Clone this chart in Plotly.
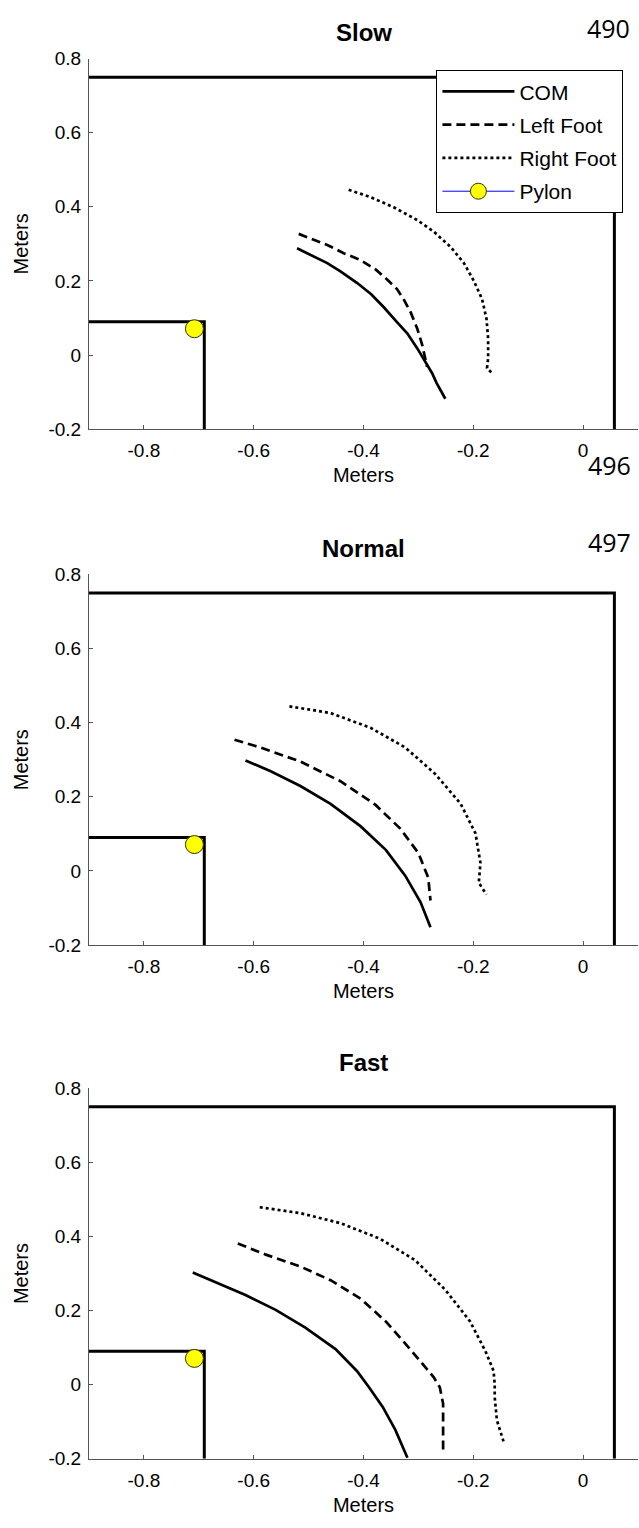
import plotly.graph_objects as go

W, H = 639, 1528

# ---- trajectories (metres) -------------------------------------------------
slow_com_x = [-0.521, -0.497, -0.466, -0.442, -0.412, -0.386, -0.363, -0.339, -0.320, -0.302, -0.287, -0.275, -0.267, -0.251]
slow_com_y = [0.288, 0.271, 0.248, 0.226, 0.195, 0.164, 0.129, 0.089, 0.058, 0.018, -0.018, -0.049, -0.075, -0.118]
slow_left_x = [-0.518, -0.497, -0.466, -0.436, -0.406, -0.378, -0.357, -0.339, -0.327, -0.314, -0.302, -0.293, -0.286, -0.284]
slow_left_y = [0.327, 0.315, 0.297, 0.275, 0.257, 0.231, 0.204, 0.178, 0.151, 0.115, 0.071, 0.027, -0.018, -0.032]
slow_right_x = [-0.427, -0.387, -0.345, -0.302, -0.272, -0.242, -0.217, -0.199, -0.184, -0.176, -0.173, -0.173, -0.175, -0.166]
slow_right_y = [0.446, 0.426, 0.399, 0.364, 0.333, 0.293, 0.248, 0.200, 0.151, 0.098, 0.045, -0.009, -0.035, -0.049]

normal_com_x = [-0.615, -0.569, -0.515, -0.460, -0.405, -0.359, -0.324, -0.296, -0.278]
normal_com_y = [0.298, 0.269, 0.229, 0.181, 0.120, 0.056, -0.013, -0.085, -0.152]
normal_left_x = [-0.635, -0.588, -0.515, -0.442, -0.378, -0.333, -0.300, -0.282, -0.278]
normal_left_y = [0.354, 0.333, 0.295, 0.242, 0.178, 0.114, 0.048, -0.019, -0.080]
normal_right_x = [-0.535, -0.460, -0.387, -0.324, -0.269, -0.223, -0.196, -0.187, -0.190, -0.176]
normal_right_y = [0.444, 0.426, 0.386, 0.333, 0.261, 0.181, 0.101, 0.021, -0.032, -0.064]

fast_com_x = [-0.711, -0.669, -0.615, -0.560, -0.506, -0.451, -0.412, -0.390, -0.365, -0.342, -0.320]
fast_com_y = [0.303, 0.277, 0.242, 0.202, 0.154, 0.096, 0.037, -0.007, -0.060, -0.122, -0.197]
fast_left_x = [-0.629, -0.578, -0.515, -0.460, -0.405, -0.359, -0.318, -0.290, -0.272, -0.261, -0.255, -0.255]
fast_left_y = [0.381, 0.351, 0.319, 0.282, 0.232, 0.170, 0.101, 0.050, 0.020, -0.007, -0.051, -0.180]
fast_right_x = [-0.589, -0.515, -0.442, -0.370, -0.306, -0.251, -0.206, -0.178, -0.163, -0.161, -0.161, -0.157, -0.145]
fast_right_y = [0.479, 0.463, 0.436, 0.394, 0.336, 0.256, 0.171, 0.091, 0.037, 0.000, -0.034, -0.096, -0.153]

# ---- course geometry ---------------------------------------------------------
wall_y = 0.75          # far wall
wall_x = 0.057         # right wall
corner_x = -0.69       # pylon block edge
corner_y = 0.09
pylon_x = [-0.708]
pylon_y = [0.071]

panels = [
    ("Slow", slow_com_x, slow_com_y, slow_left_x, slow_left_y, slow_right_x, slow_right_y),
    ("Normal", normal_com_x, normal_com_y, normal_left_x, normal_left_y, normal_right_x, normal_right_y),
    ("Fast", fast_com_x, fast_com_y, fast_left_x, fast_left_y, fast_right_x, fast_right_y),
]

x_range = [-0.9, 0.1]
y_range = [-0.2, 0.8]
x_ticks = [-0.8, -0.6, -0.4, -0.2, 0]
x_ticktext = ["-0.8", "-0.6", "-0.4", "-0.2", "0"]
y_ticks = [-0.2, 0, 0.2, 0.4, 0.6, 0.8]
y_ticktext = ["-0.2", "0", "0.2", "0.4", "0.6", "0.8"]

FONT = "Liberation Sans, Arial, sans-serif"

# plot-area pixel boxes (left, right, top, bottom)
left_px, right_px = 89.0, 638.0
tops = [49.3, 572.3, 1093.3]
height_px = 375.7

fig = go.Figure()
layout = dict(
    width=W, height=H,
    margin=dict(l=0, r=0, t=0, b=0),
    paper_bgcolor="white", plot_bgcolor="white",
    font=dict(family=FONT, size=19, color="black"),
    showlegend=True,
    legend=dict(
        x=529.9 / W, y=1 - 61 / H, xanchor="center", yanchor="top",
        bgcolor="white", bordercolor="black", borderwidth=1,
        font=dict(family=FONT, size=21, color="black"),
        traceorder="grouped", tracegroupgap=3, itemwidth=72,
    ),
    annotations=[],
)

for i, (name, cx, cy, lx, ly, rx, ry) in enumerate(panels):
    xa = "x" if i == 0 else f"x{i + 1}"
    ya = "y" if i == 0 else f"y{i + 1}"
    top = tops[i]
    bottom = top + height_px
    first = i == 0

    # walls
    fig.add_trace(go.Scatter(
        x=[x_range[0], wall_x, wall_x], y=[wall_y, wall_y, y_range[0]],
        mode="lines", line=dict(color="black", width=3),
        showlegend=False, hoverinfo="skip", xaxis=xa, yaxis=ya))
    fig.add_trace(go.Scatter(
        x=[x_range[0], corner_x, corner_x], y=[corner_y, corner_y, y_range[0]],
        mode="lines", line=dict(color="black", width=3),
        showlegend=False, hoverinfo="skip", xaxis=xa, yaxis=ya))

    fig.add_trace(go.Scatter(
        x=cx, y=cy, mode="lines", name="COM", legendgroup="com",
        line=dict(color="black", width=2.7),
        showlegend=first, xaxis=xa, yaxis=ya))
    fig.add_trace(go.Scatter(
        x=lx, y=ly, mode="lines", name="Left Foot", legendgroup="left",
        line=dict(color="black", width=2.7, dash="9px,5px"),
        showlegend=first, xaxis=xa, yaxis=ya))
    fig.add_trace(go.Scatter(
        x=rx, y=ry, mode="lines", name="Right Foot", legendgroup="right",
        line=dict(color="black", width=2.7, dash="3px,3px"),
        showlegend=first, xaxis=xa, yaxis=ya))
    fig.add_trace(go.Scatter(
        x=pylon_x, y=pylon_y, mode="lines+markers", name="Pylon", legendgroup="pylon",
        line=dict(color="blue", width=1),
        marker=dict(color="yellow", size=18, line=dict(color="#333300", width=1)),
        showlegend=first, xaxis=xa, yaxis=ya))

    y0 = 1 - bottom / H
    y1 = 1 - top / H
    axis_common = dict(
        showline=True, linecolor="#555555", linewidth=1,
        ticks="inside", ticklen=4, tickcolor="#555555", tickwidth=1,
        showgrid=False, zeroline=False,
        tickfont=dict(family=FONT, size=19, color="black"),
    )
    layout["xaxis" if i == 0 else f"xaxis{i + 1}"] = dict(
        axis_common, domain=[left_px / W, right_px / W], range=x_range,
        tickvals=x_ticks, ticktext=x_ticktext, anchor=ya, ticklabelstandoff=4,
        title=dict(text="Meters", font=dict(family=FONT, size=20), standoff=8),
    )
    layout["yaxis" if i == 0 else f"yaxis{i + 1}"] = dict(
        axis_common, domain=[y0, y1], range=y_range,
        tickvals=y_ticks, ticktext=y_ticktext, anchor=xa, ticklabelstandoff=3,
        title=dict(text="Meters", font=dict(family=FONT, size=20), standoff=14),
    )
    layout["annotations"].append(dict(
        text=f"<b>{name}</b>", x=(left_px + right_px) / 2 / W, y=1 - (top - 26) / H,
        xref="paper", yref="paper", xanchor="center", yanchor="middle",
        showarrow=False, font=dict(family=FONT, size=24, color="black")))

# page numbers printed alongside the panels
for txt, px, py in [("490", 608, 18), ("496", 609, 461), ("497", 609, 539)]:
    layout["annotations"].append(dict(
        text=txt, x=px / W, y=1 - py / H, xref="paper", yref="paper",
        xanchor="center", yanchor="middle", showarrow=False,
        font=dict(family="Open Sans, sans-serif", size=25, color="black")))

fig.update_layout(**layout)
fig.write_html("out.html", post_script="document.body.style.margin='0';")
